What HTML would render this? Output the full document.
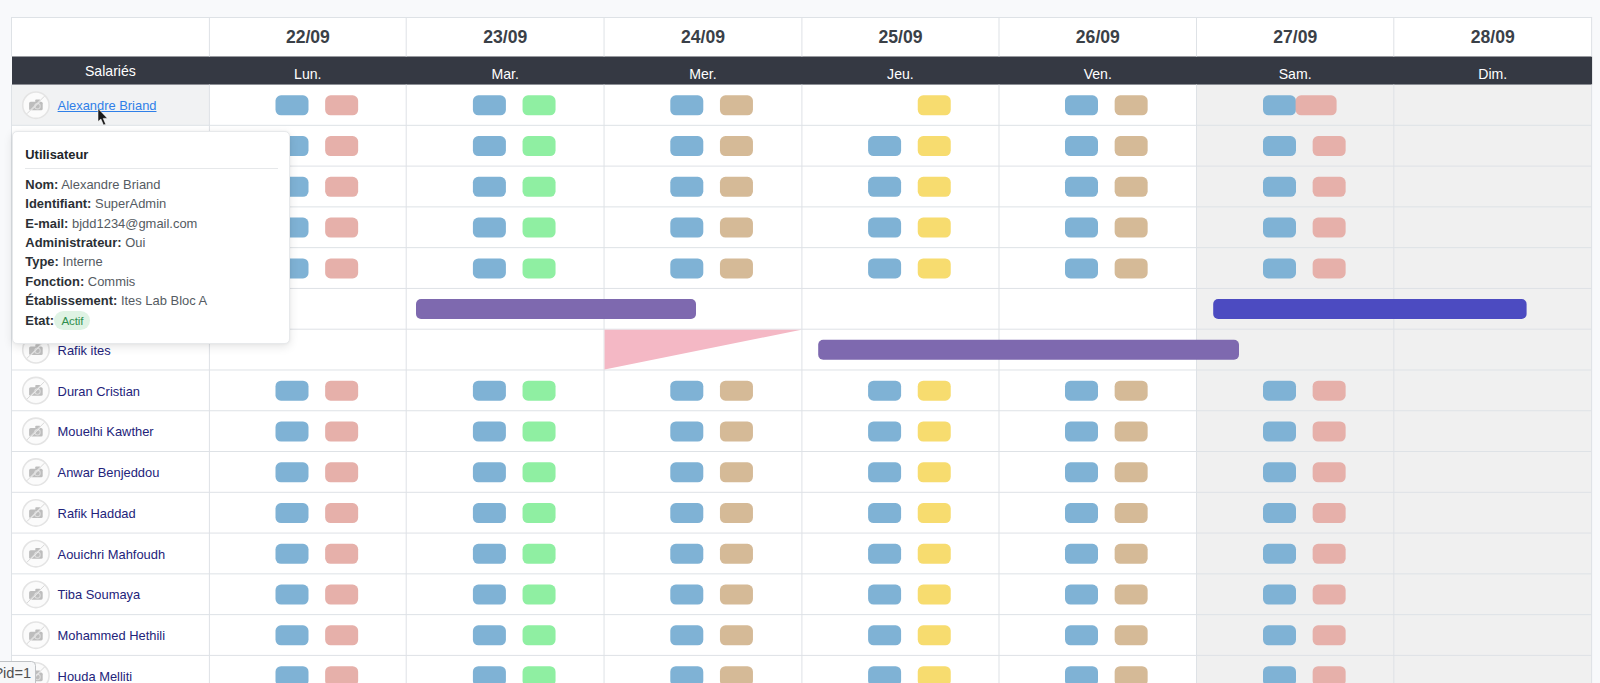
<!DOCTYPE html>
<html lang="fr"><head><meta charset="utf-8"><title>Planning</title>
<style>
html,body{margin:0;padding:0}
body{width:1600px;height:683px;overflow:hidden;background:#f8f9fb;position:relative;font-family:"Liberation Sans",sans-serif;}
#g{position:absolute;left:0;top:0}
.t{position:absolute;white-space:nowrap;line-height:1}
.date{font-weight:bold;font-size:17.6px;color:#3a4047;width:198px;text-align:center}
.day{font-size:14.1px;color:#fff;width:198px;text-align:center}
.nm{font-size:12.9px;color:#23237a;text-decoration:none}
.nm.hov{color:#2f7fe8;text-decoration:underline}
#pop{position:absolute;left:12px;top:131px;width:276px;height:211px;background:#fff;border:1px solid #e7e9eb;border-radius:5px;box-shadow:0 3px 10px rgba(0,0,0,.10),0 0 3px rgba(0,0,0,.05);box-sizing:content-box}
#pop h6{margin:0;position:absolute;left:12.3px;top:16.1px;font-size:12.9px;line-height:14px;color:#212529;font-weight:bold}
#pop hr{position:absolute;left:12.3px;right:11px;top:36px;margin:0;border:0;border-top:1px solid #e6e8ea}
#pop ul{list-style:none;margin:0;padding:0;position:absolute;left:12.3px;top:42.8px;font-size:12.95px;line-height:19.4px;color:#555b62}
#pop li{white-space:nowrap}
#pop b{color:#2b3035}
.badge{display:inline-block;background:#dff3e4;color:#2f8f4e;font-size:11.6px;line-height:19px;height:19px;padding:0 7.2px;border-radius:10px;vertical-align:middle;position:relative;top:-0.6px;margin-left:-3.4px;letter-spacing:-0.15px}
#status{position:absolute;left:-6px;top:660.9px;height:24px;width:41.8px;background:#f6f7f8;border:1px solid #bfc2c5;border-radius:0 4.5px 0 0;font-family:"Liberation Sans",sans-serif;font-size:14.6px;line-height:20px;color:#505050;white-space:nowrap;box-sizing:border-box;padding-left:0px;padding-top:1.4px}
</style></head><body>

<svg id="g" width="1600" height="683" viewBox="0 0 1600 683">
<rect x="11.5" y="17.5" width="1580.1" height="39" fill="#ffffff"/>
<rect x="11.5" y="84.55" width="1185" height="598.45" fill="#ffffff"/>
<rect x="1196" y="84.55" width="395.6" height="598.45" fill="#f0f0f0"/>
<rect x="11.5" y="84.55" width="197.9" height="40.77" fill="#f1f2f3"/>
<rect x="12" y="56.5" width="1580.1" height="28.05" fill="#353943"/>
<rect x="11" y="17" width="1581.1" height="1" fill="#dee2e6"/>
<rect x="11.5" y="124.82" width="1580.1" height="1" fill="#dee2e6"/>
<rect x="11.5" y="165.6" width="1580.1" height="1" fill="#dee2e6"/>
<rect x="11.5" y="206.38" width="1580.1" height="1" fill="#dee2e6"/>
<rect x="11.5" y="247.15" width="1580.1" height="1" fill="#dee2e6"/>
<rect x="11.5" y="287.93" width="1580.1" height="1" fill="#dee2e6"/>
<rect x="11.5" y="328.7" width="1580.1" height="1" fill="#dee2e6"/>
<rect x="11.5" y="369.48" width="1580.1" height="1" fill="#dee2e6"/>
<rect x="11.5" y="410.25" width="1580.1" height="1" fill="#dee2e6"/>
<rect x="11.5" y="451.02" width="1580.1" height="1" fill="#dee2e6"/>
<rect x="11.5" y="491.8" width="1580.1" height="1" fill="#dee2e6"/>
<rect x="11.5" y="532.57" width="1580.1" height="1" fill="#dee2e6"/>
<rect x="11.5" y="573.35" width="1580.1" height="1" fill="#dee2e6"/>
<rect x="11.5" y="614.12" width="1580.1" height="1" fill="#dee2e6"/>
<rect x="11.5" y="654.9" width="1580.1" height="1" fill="#dee2e6"/>
<rect x="11.5" y="695.67" width="1580.1" height="1" fill="#dee2e6"/>
<rect x="11" y="17.5" width="1" height="39" fill="#dee2e6"/>
<rect x="11" y="84.55" width="1" height="598.45" fill="#dee2e6"/>
<rect x="208.9" y="17.5" width="1" height="39" fill="#dee2e6"/>
<rect x="208.9" y="84.55" width="1" height="598.45" fill="#dee2e6"/>
<rect x="405.7" y="17.5" width="1" height="39" fill="#dee2e6"/>
<rect x="405.7" y="84.55" width="1" height="598.45" fill="#dee2e6"/>
<rect x="603.55" y="17.5" width="1" height="39" fill="#dee2e6"/>
<rect x="603.55" y="84.55" width="1" height="598.45" fill="#dee2e6"/>
<rect x="801.4" y="17.5" width="1" height="39" fill="#dee2e6"/>
<rect x="801.4" y="84.55" width="1" height="598.45" fill="#dee2e6"/>
<rect x="998.5" y="17.5" width="1" height="39" fill="#dee2e6"/>
<rect x="998.5" y="84.55" width="1" height="598.45" fill="#dee2e6"/>
<rect x="1196" y="17.5" width="1" height="39" fill="#dee2e6"/>
<rect x="1196" y="84.55" width="1" height="598.45" fill="#dee2e6"/>
<rect x="1393.3" y="17.5" width="1" height="39" fill="#dee2e6"/>
<rect x="1393.3" y="84.55" width="1" height="598.45" fill="#dee2e6"/>
<rect x="1591.1" y="17.5" width="1" height="39" fill="#dee2e6"/>
<rect x="1591.1" y="84.55" width="1" height="598.45" fill="#dee2e6"/>
<rect x="275.5" y="95.3" width="33" height="20" rx="5.5" fill="#7fb2d5"/>
<rect x="325.15" y="95.3" width="33" height="20" rx="5.5" fill="#e6b0aa"/>
<rect x="472.9" y="95.3" width="33" height="20" rx="5.5" fill="#7fb2d5"/>
<rect x="522.55" y="95.3" width="33" height="20" rx="5.5" fill="#8fefa2"/>
<rect x="670.3" y="95.3" width="33" height="20" rx="5.5" fill="#7fb2d5"/>
<rect x="719.95" y="95.3" width="33" height="20" rx="5.5" fill="#d5ba97"/>
<rect x="917.75" y="95.3" width="33" height="20" rx="5.5" fill="#f7dc6f"/>
<rect x="1065" y="95.3" width="33" height="20" rx="5.5" fill="#7fb2d5"/>
<rect x="1114.65" y="95.3" width="33" height="20" rx="5.5" fill="#d5ba97"/>
<rect x="1263" y="95.3" width="33" height="20" rx="5.5" fill="#7fb2d5"/>
<rect x="1295.6" y="95.3" width="41" height="20" rx="5.5" fill="#e6b0aa"/>
<rect x="275.5" y="136.07" width="33" height="20" rx="5.5" fill="#7fb2d5"/>
<rect x="325.15" y="136.07" width="33" height="20" rx="5.5" fill="#e6b0aa"/>
<rect x="472.9" y="136.07" width="33" height="20" rx="5.5" fill="#7fb2d5"/>
<rect x="522.55" y="136.07" width="33" height="20" rx="5.5" fill="#8fefa2"/>
<rect x="670.3" y="136.07" width="33" height="20" rx="5.5" fill="#7fb2d5"/>
<rect x="719.95" y="136.07" width="33" height="20" rx="5.5" fill="#d5ba97"/>
<rect x="868.1" y="136.07" width="33" height="20" rx="5.5" fill="#7fb2d5"/>
<rect x="917.75" y="136.07" width="33" height="20" rx="5.5" fill="#f7dc6f"/>
<rect x="1065" y="136.07" width="33" height="20" rx="5.5" fill="#7fb2d5"/>
<rect x="1114.65" y="136.07" width="33" height="20" rx="5.5" fill="#d5ba97"/>
<rect x="1263" y="136.07" width="33" height="20" rx="5.5" fill="#7fb2d5"/>
<rect x="1312.65" y="136.07" width="33" height="20" rx="5.5" fill="#e6b0aa"/>
<rect x="275.5" y="176.85" width="33" height="20" rx="5.5" fill="#7fb2d5"/>
<rect x="325.15" y="176.85" width="33" height="20" rx="5.5" fill="#e6b0aa"/>
<rect x="472.9" y="176.85" width="33" height="20" rx="5.5" fill="#7fb2d5"/>
<rect x="522.55" y="176.85" width="33" height="20" rx="5.5" fill="#8fefa2"/>
<rect x="670.3" y="176.85" width="33" height="20" rx="5.5" fill="#7fb2d5"/>
<rect x="719.95" y="176.85" width="33" height="20" rx="5.5" fill="#d5ba97"/>
<rect x="868.1" y="176.85" width="33" height="20" rx="5.5" fill="#7fb2d5"/>
<rect x="917.75" y="176.85" width="33" height="20" rx="5.5" fill="#f7dc6f"/>
<rect x="1065" y="176.85" width="33" height="20" rx="5.5" fill="#7fb2d5"/>
<rect x="1114.65" y="176.85" width="33" height="20" rx="5.5" fill="#d5ba97"/>
<rect x="1263" y="176.85" width="33" height="20" rx="5.5" fill="#7fb2d5"/>
<rect x="1312.65" y="176.85" width="33" height="20" rx="5.5" fill="#e6b0aa"/>
<rect x="275.5" y="217.62" width="33" height="20" rx="5.5" fill="#7fb2d5"/>
<rect x="325.15" y="217.62" width="33" height="20" rx="5.5" fill="#e6b0aa"/>
<rect x="472.9" y="217.62" width="33" height="20" rx="5.5" fill="#7fb2d5"/>
<rect x="522.55" y="217.62" width="33" height="20" rx="5.5" fill="#8fefa2"/>
<rect x="670.3" y="217.62" width="33" height="20" rx="5.5" fill="#7fb2d5"/>
<rect x="719.95" y="217.62" width="33" height="20" rx="5.5" fill="#d5ba97"/>
<rect x="868.1" y="217.62" width="33" height="20" rx="5.5" fill="#7fb2d5"/>
<rect x="917.75" y="217.62" width="33" height="20" rx="5.5" fill="#f7dc6f"/>
<rect x="1065" y="217.62" width="33" height="20" rx="5.5" fill="#7fb2d5"/>
<rect x="1114.65" y="217.62" width="33" height="20" rx="5.5" fill="#d5ba97"/>
<rect x="1263" y="217.62" width="33" height="20" rx="5.5" fill="#7fb2d5"/>
<rect x="1312.65" y="217.62" width="33" height="20" rx="5.5" fill="#e6b0aa"/>
<rect x="275.5" y="258.4" width="33" height="20" rx="5.5" fill="#7fb2d5"/>
<rect x="325.15" y="258.4" width="33" height="20" rx="5.5" fill="#e6b0aa"/>
<rect x="472.9" y="258.4" width="33" height="20" rx="5.5" fill="#7fb2d5"/>
<rect x="522.55" y="258.4" width="33" height="20" rx="5.5" fill="#8fefa2"/>
<rect x="670.3" y="258.4" width="33" height="20" rx="5.5" fill="#7fb2d5"/>
<rect x="719.95" y="258.4" width="33" height="20" rx="5.5" fill="#d5ba97"/>
<rect x="868.1" y="258.4" width="33" height="20" rx="5.5" fill="#7fb2d5"/>
<rect x="917.75" y="258.4" width="33" height="20" rx="5.5" fill="#f7dc6f"/>
<rect x="1065" y="258.4" width="33" height="20" rx="5.5" fill="#7fb2d5"/>
<rect x="1114.65" y="258.4" width="33" height="20" rx="5.5" fill="#d5ba97"/>
<rect x="1263" y="258.4" width="33" height="20" rx="5.5" fill="#7fb2d5"/>
<rect x="1312.65" y="258.4" width="33" height="20" rx="5.5" fill="#e6b0aa"/>
<rect x="275.5" y="380.73" width="33" height="20" rx="5.5" fill="#7fb2d5"/>
<rect x="325.15" y="380.73" width="33" height="20" rx="5.5" fill="#e6b0aa"/>
<rect x="472.9" y="380.73" width="33" height="20" rx="5.5" fill="#7fb2d5"/>
<rect x="522.55" y="380.73" width="33" height="20" rx="5.5" fill="#8fefa2"/>
<rect x="670.3" y="380.73" width="33" height="20" rx="5.5" fill="#7fb2d5"/>
<rect x="719.95" y="380.73" width="33" height="20" rx="5.5" fill="#d5ba97"/>
<rect x="868.1" y="380.73" width="33" height="20" rx="5.5" fill="#7fb2d5"/>
<rect x="917.75" y="380.73" width="33" height="20" rx="5.5" fill="#f7dc6f"/>
<rect x="1065" y="380.73" width="33" height="20" rx="5.5" fill="#7fb2d5"/>
<rect x="1114.65" y="380.73" width="33" height="20" rx="5.5" fill="#d5ba97"/>
<rect x="1263" y="380.73" width="33" height="20" rx="5.5" fill="#7fb2d5"/>
<rect x="1312.65" y="380.73" width="33" height="20" rx="5.5" fill="#e6b0aa"/>
<rect x="275.5" y="421.5" width="33" height="20" rx="5.5" fill="#7fb2d5"/>
<rect x="325.15" y="421.5" width="33" height="20" rx="5.5" fill="#e6b0aa"/>
<rect x="472.9" y="421.5" width="33" height="20" rx="5.5" fill="#7fb2d5"/>
<rect x="522.55" y="421.5" width="33" height="20" rx="5.5" fill="#8fefa2"/>
<rect x="670.3" y="421.5" width="33" height="20" rx="5.5" fill="#7fb2d5"/>
<rect x="719.95" y="421.5" width="33" height="20" rx="5.5" fill="#d5ba97"/>
<rect x="868.1" y="421.5" width="33" height="20" rx="5.5" fill="#7fb2d5"/>
<rect x="917.75" y="421.5" width="33" height="20" rx="5.5" fill="#f7dc6f"/>
<rect x="1065" y="421.5" width="33" height="20" rx="5.5" fill="#7fb2d5"/>
<rect x="1114.65" y="421.5" width="33" height="20" rx="5.5" fill="#d5ba97"/>
<rect x="1263" y="421.5" width="33" height="20" rx="5.5" fill="#7fb2d5"/>
<rect x="1312.65" y="421.5" width="33" height="20" rx="5.5" fill="#e6b0aa"/>
<rect x="275.5" y="462.27" width="33" height="20" rx="5.5" fill="#7fb2d5"/>
<rect x="325.15" y="462.27" width="33" height="20" rx="5.5" fill="#e6b0aa"/>
<rect x="472.9" y="462.27" width="33" height="20" rx="5.5" fill="#7fb2d5"/>
<rect x="522.55" y="462.27" width="33" height="20" rx="5.5" fill="#8fefa2"/>
<rect x="670.3" y="462.27" width="33" height="20" rx="5.5" fill="#7fb2d5"/>
<rect x="719.95" y="462.27" width="33" height="20" rx="5.5" fill="#d5ba97"/>
<rect x="868.1" y="462.27" width="33" height="20" rx="5.5" fill="#7fb2d5"/>
<rect x="917.75" y="462.27" width="33" height="20" rx="5.5" fill="#f7dc6f"/>
<rect x="1065" y="462.27" width="33" height="20" rx="5.5" fill="#7fb2d5"/>
<rect x="1114.65" y="462.27" width="33" height="20" rx="5.5" fill="#d5ba97"/>
<rect x="1263" y="462.27" width="33" height="20" rx="5.5" fill="#7fb2d5"/>
<rect x="1312.65" y="462.27" width="33" height="20" rx="5.5" fill="#e6b0aa"/>
<rect x="275.5" y="503.05" width="33" height="20" rx="5.5" fill="#7fb2d5"/>
<rect x="325.15" y="503.05" width="33" height="20" rx="5.5" fill="#e6b0aa"/>
<rect x="472.9" y="503.05" width="33" height="20" rx="5.5" fill="#7fb2d5"/>
<rect x="522.55" y="503.05" width="33" height="20" rx="5.5" fill="#8fefa2"/>
<rect x="670.3" y="503.05" width="33" height="20" rx="5.5" fill="#7fb2d5"/>
<rect x="719.95" y="503.05" width="33" height="20" rx="5.5" fill="#d5ba97"/>
<rect x="868.1" y="503.05" width="33" height="20" rx="5.5" fill="#7fb2d5"/>
<rect x="917.75" y="503.05" width="33" height="20" rx="5.5" fill="#f7dc6f"/>
<rect x="1065" y="503.05" width="33" height="20" rx="5.5" fill="#7fb2d5"/>
<rect x="1114.65" y="503.05" width="33" height="20" rx="5.5" fill="#d5ba97"/>
<rect x="1263" y="503.05" width="33" height="20" rx="5.5" fill="#7fb2d5"/>
<rect x="1312.65" y="503.05" width="33" height="20" rx="5.5" fill="#e6b0aa"/>
<rect x="275.5" y="543.82" width="33" height="20" rx="5.5" fill="#7fb2d5"/>
<rect x="325.15" y="543.82" width="33" height="20" rx="5.5" fill="#e6b0aa"/>
<rect x="472.9" y="543.82" width="33" height="20" rx="5.5" fill="#7fb2d5"/>
<rect x="522.55" y="543.82" width="33" height="20" rx="5.5" fill="#8fefa2"/>
<rect x="670.3" y="543.82" width="33" height="20" rx="5.5" fill="#7fb2d5"/>
<rect x="719.95" y="543.82" width="33" height="20" rx="5.5" fill="#d5ba97"/>
<rect x="868.1" y="543.82" width="33" height="20" rx="5.5" fill="#7fb2d5"/>
<rect x="917.75" y="543.82" width="33" height="20" rx="5.5" fill="#f7dc6f"/>
<rect x="1065" y="543.82" width="33" height="20" rx="5.5" fill="#7fb2d5"/>
<rect x="1114.65" y="543.82" width="33" height="20" rx="5.5" fill="#d5ba97"/>
<rect x="1263" y="543.82" width="33" height="20" rx="5.5" fill="#7fb2d5"/>
<rect x="1312.65" y="543.82" width="33" height="20" rx="5.5" fill="#e6b0aa"/>
<rect x="275.5" y="584.6" width="33" height="20" rx="5.5" fill="#7fb2d5"/>
<rect x="325.15" y="584.6" width="33" height="20" rx="5.5" fill="#e6b0aa"/>
<rect x="472.9" y="584.6" width="33" height="20" rx="5.5" fill="#7fb2d5"/>
<rect x="522.55" y="584.6" width="33" height="20" rx="5.5" fill="#8fefa2"/>
<rect x="670.3" y="584.6" width="33" height="20" rx="5.5" fill="#7fb2d5"/>
<rect x="719.95" y="584.6" width="33" height="20" rx="5.5" fill="#d5ba97"/>
<rect x="868.1" y="584.6" width="33" height="20" rx="5.5" fill="#7fb2d5"/>
<rect x="917.75" y="584.6" width="33" height="20" rx="5.5" fill="#f7dc6f"/>
<rect x="1065" y="584.6" width="33" height="20" rx="5.5" fill="#7fb2d5"/>
<rect x="1114.65" y="584.6" width="33" height="20" rx="5.5" fill="#d5ba97"/>
<rect x="1263" y="584.6" width="33" height="20" rx="5.5" fill="#7fb2d5"/>
<rect x="1312.65" y="584.6" width="33" height="20" rx="5.5" fill="#e6b0aa"/>
<rect x="275.5" y="625.37" width="33" height="20" rx="5.5" fill="#7fb2d5"/>
<rect x="325.15" y="625.37" width="33" height="20" rx="5.5" fill="#e6b0aa"/>
<rect x="472.9" y="625.37" width="33" height="20" rx="5.5" fill="#7fb2d5"/>
<rect x="522.55" y="625.37" width="33" height="20" rx="5.5" fill="#8fefa2"/>
<rect x="670.3" y="625.37" width="33" height="20" rx="5.5" fill="#7fb2d5"/>
<rect x="719.95" y="625.37" width="33" height="20" rx="5.5" fill="#d5ba97"/>
<rect x="868.1" y="625.37" width="33" height="20" rx="5.5" fill="#7fb2d5"/>
<rect x="917.75" y="625.37" width="33" height="20" rx="5.5" fill="#f7dc6f"/>
<rect x="1065" y="625.37" width="33" height="20" rx="5.5" fill="#7fb2d5"/>
<rect x="1114.65" y="625.37" width="33" height="20" rx="5.5" fill="#d5ba97"/>
<rect x="1263" y="625.37" width="33" height="20" rx="5.5" fill="#7fb2d5"/>
<rect x="1312.65" y="625.37" width="33" height="20" rx="5.5" fill="#e6b0aa"/>
<rect x="275.5" y="666.15" width="33" height="20" rx="5.5" fill="#7fb2d5"/>
<rect x="325.15" y="666.15" width="33" height="20" rx="5.5" fill="#e6b0aa"/>
<rect x="472.9" y="666.15" width="33" height="20" rx="5.5" fill="#7fb2d5"/>
<rect x="522.55" y="666.15" width="33" height="20" rx="5.5" fill="#8fefa2"/>
<rect x="670.3" y="666.15" width="33" height="20" rx="5.5" fill="#7fb2d5"/>
<rect x="719.95" y="666.15" width="33" height="20" rx="5.5" fill="#d5ba97"/>
<rect x="868.1" y="666.15" width="33" height="20" rx="5.5" fill="#7fb2d5"/>
<rect x="917.75" y="666.15" width="33" height="20" rx="5.5" fill="#f7dc6f"/>
<rect x="1065" y="666.15" width="33" height="20" rx="5.5" fill="#7fb2d5"/>
<rect x="1114.65" y="666.15" width="33" height="20" rx="5.5" fill="#d5ba97"/>
<rect x="1263" y="666.15" width="33" height="20" rx="5.5" fill="#7fb2d5"/>
<rect x="1312.65" y="666.15" width="33" height="20" rx="5.5" fill="#e6b0aa"/>
<rect x="416" y="299.03" width="280" height="20" rx="5" fill="#7e69af"/>
<rect x="1213.2" y="299.03" width="313.4" height="20" rx="5" fill="#4c4bc1"/>
<rect x="818.2" y="339.8" width="420.8" height="20" rx="5" fill="#7e69af"/>
<polygon points="604.55,329.7 801.4,329.7 604.55,369.48" fill="#f4b8c5"/>
<g transform="translate(35.9,105.15)">
<circle r="13.2" fill="#fbfbfb" stroke="#e4e4e4" stroke-width="1.6"/>
<rect x="-6.8" y="-3.4" width="13.6" height="8.6" rx="1.6" fill="#bdbdbd"/>
<rect x="-0.6" y="-5.6" width="5" height="3" rx="0.8" fill="#bdbdbd"/>
<circle cx="1.6" cy="1" r="2.7" fill="#bdbdbd" stroke="#dcdcdc" stroke-width="1.1"/>
<path d="M-8.6 8.6 L8.6 -8.6" stroke="#fbfbfb" stroke-width="1.3" opacity=".8"/>
<path d="M-9 8.6 L8.6 -9" stroke="#d4d4d4" stroke-width="0.9"/>
</g>
<g transform="translate(35.9,145.92)">
<circle r="13.2" fill="#fbfbfb" stroke="#e4e4e4" stroke-width="1.6"/>
<rect x="-6.8" y="-3.4" width="13.6" height="8.6" rx="1.6" fill="#bdbdbd"/>
<rect x="-0.6" y="-5.6" width="5" height="3" rx="0.8" fill="#bdbdbd"/>
<circle cx="1.6" cy="1" r="2.7" fill="#bdbdbd" stroke="#dcdcdc" stroke-width="1.1"/>
<path d="M-8.6 8.6 L8.6 -8.6" stroke="#fbfbfb" stroke-width="1.3" opacity=".8"/>
<path d="M-9 8.6 L8.6 -9" stroke="#d4d4d4" stroke-width="0.9"/>
</g>
<g transform="translate(35.9,186.7)">
<circle r="13.2" fill="#fbfbfb" stroke="#e4e4e4" stroke-width="1.6"/>
<rect x="-6.8" y="-3.4" width="13.6" height="8.6" rx="1.6" fill="#bdbdbd"/>
<rect x="-0.6" y="-5.6" width="5" height="3" rx="0.8" fill="#bdbdbd"/>
<circle cx="1.6" cy="1" r="2.7" fill="#bdbdbd" stroke="#dcdcdc" stroke-width="1.1"/>
<path d="M-8.6 8.6 L8.6 -8.6" stroke="#fbfbfb" stroke-width="1.3" opacity=".8"/>
<path d="M-9 8.6 L8.6 -9" stroke="#d4d4d4" stroke-width="0.9"/>
</g>
<g transform="translate(35.9,227.47)">
<circle r="13.2" fill="#fbfbfb" stroke="#e4e4e4" stroke-width="1.6"/>
<rect x="-6.8" y="-3.4" width="13.6" height="8.6" rx="1.6" fill="#bdbdbd"/>
<rect x="-0.6" y="-5.6" width="5" height="3" rx="0.8" fill="#bdbdbd"/>
<circle cx="1.6" cy="1" r="2.7" fill="#bdbdbd" stroke="#dcdcdc" stroke-width="1.1"/>
<path d="M-8.6 8.6 L8.6 -8.6" stroke="#fbfbfb" stroke-width="1.3" opacity=".8"/>
<path d="M-9 8.6 L8.6 -9" stroke="#d4d4d4" stroke-width="0.9"/>
</g>
<g transform="translate(35.9,268.25)">
<circle r="13.2" fill="#fbfbfb" stroke="#e4e4e4" stroke-width="1.6"/>
<rect x="-6.8" y="-3.4" width="13.6" height="8.6" rx="1.6" fill="#bdbdbd"/>
<rect x="-0.6" y="-5.6" width="5" height="3" rx="0.8" fill="#bdbdbd"/>
<circle cx="1.6" cy="1" r="2.7" fill="#bdbdbd" stroke="#dcdcdc" stroke-width="1.1"/>
<path d="M-8.6 8.6 L8.6 -8.6" stroke="#fbfbfb" stroke-width="1.3" opacity=".8"/>
<path d="M-9 8.6 L8.6 -9" stroke="#d4d4d4" stroke-width="0.9"/>
</g>
<g transform="translate(35.9,309.03)">
<circle r="13.2" fill="#fbfbfb" stroke="#e4e4e4" stroke-width="1.6"/>
<rect x="-6.8" y="-3.4" width="13.6" height="8.6" rx="1.6" fill="#bdbdbd"/>
<rect x="-0.6" y="-5.6" width="5" height="3" rx="0.8" fill="#bdbdbd"/>
<circle cx="1.6" cy="1" r="2.7" fill="#bdbdbd" stroke="#dcdcdc" stroke-width="1.1"/>
<path d="M-8.6 8.6 L8.6 -8.6" stroke="#fbfbfb" stroke-width="1.3" opacity=".8"/>
<path d="M-9 8.6 L8.6 -9" stroke="#d4d4d4" stroke-width="0.9"/>
</g>
<g transform="translate(35.9,349.8)">
<circle r="13.2" fill="#fbfbfb" stroke="#e4e4e4" stroke-width="1.6"/>
<rect x="-6.8" y="-3.4" width="13.6" height="8.6" rx="1.6" fill="#bdbdbd"/>
<rect x="-0.6" y="-5.6" width="5" height="3" rx="0.8" fill="#bdbdbd"/>
<circle cx="1.6" cy="1" r="2.7" fill="#bdbdbd" stroke="#dcdcdc" stroke-width="1.1"/>
<path d="M-8.6 8.6 L8.6 -8.6" stroke="#fbfbfb" stroke-width="1.3" opacity=".8"/>
<path d="M-9 8.6 L8.6 -9" stroke="#d4d4d4" stroke-width="0.9"/>
</g>
<g transform="translate(35.9,390.58)">
<circle r="13.2" fill="#fbfbfb" stroke="#e4e4e4" stroke-width="1.6"/>
<rect x="-6.8" y="-3.4" width="13.6" height="8.6" rx="1.6" fill="#bdbdbd"/>
<rect x="-0.6" y="-5.6" width="5" height="3" rx="0.8" fill="#bdbdbd"/>
<circle cx="1.6" cy="1" r="2.7" fill="#bdbdbd" stroke="#dcdcdc" stroke-width="1.1"/>
<path d="M-8.6 8.6 L8.6 -8.6" stroke="#fbfbfb" stroke-width="1.3" opacity=".8"/>
<path d="M-9 8.6 L8.6 -9" stroke="#d4d4d4" stroke-width="0.9"/>
</g>
<g transform="translate(35.9,431.35)">
<circle r="13.2" fill="#fbfbfb" stroke="#e4e4e4" stroke-width="1.6"/>
<rect x="-6.8" y="-3.4" width="13.6" height="8.6" rx="1.6" fill="#bdbdbd"/>
<rect x="-0.6" y="-5.6" width="5" height="3" rx="0.8" fill="#bdbdbd"/>
<circle cx="1.6" cy="1" r="2.7" fill="#bdbdbd" stroke="#dcdcdc" stroke-width="1.1"/>
<path d="M-8.6 8.6 L8.6 -8.6" stroke="#fbfbfb" stroke-width="1.3" opacity=".8"/>
<path d="M-9 8.6 L8.6 -9" stroke="#d4d4d4" stroke-width="0.9"/>
</g>
<g transform="translate(35.9,472.12)">
<circle r="13.2" fill="#fbfbfb" stroke="#e4e4e4" stroke-width="1.6"/>
<rect x="-6.8" y="-3.4" width="13.6" height="8.6" rx="1.6" fill="#bdbdbd"/>
<rect x="-0.6" y="-5.6" width="5" height="3" rx="0.8" fill="#bdbdbd"/>
<circle cx="1.6" cy="1" r="2.7" fill="#bdbdbd" stroke="#dcdcdc" stroke-width="1.1"/>
<path d="M-8.6 8.6 L8.6 -8.6" stroke="#fbfbfb" stroke-width="1.3" opacity=".8"/>
<path d="M-9 8.6 L8.6 -9" stroke="#d4d4d4" stroke-width="0.9"/>
</g>
<g transform="translate(35.9,512.9)">
<circle r="13.2" fill="#fbfbfb" stroke="#e4e4e4" stroke-width="1.6"/>
<rect x="-6.8" y="-3.4" width="13.6" height="8.6" rx="1.6" fill="#bdbdbd"/>
<rect x="-0.6" y="-5.6" width="5" height="3" rx="0.8" fill="#bdbdbd"/>
<circle cx="1.6" cy="1" r="2.7" fill="#bdbdbd" stroke="#dcdcdc" stroke-width="1.1"/>
<path d="M-8.6 8.6 L8.6 -8.6" stroke="#fbfbfb" stroke-width="1.3" opacity=".8"/>
<path d="M-9 8.6 L8.6 -9" stroke="#d4d4d4" stroke-width="0.9"/>
</g>
<g transform="translate(35.9,553.67)">
<circle r="13.2" fill="#fbfbfb" stroke="#e4e4e4" stroke-width="1.6"/>
<rect x="-6.8" y="-3.4" width="13.6" height="8.6" rx="1.6" fill="#bdbdbd"/>
<rect x="-0.6" y="-5.6" width="5" height="3" rx="0.8" fill="#bdbdbd"/>
<circle cx="1.6" cy="1" r="2.7" fill="#bdbdbd" stroke="#dcdcdc" stroke-width="1.1"/>
<path d="M-8.6 8.6 L8.6 -8.6" stroke="#fbfbfb" stroke-width="1.3" opacity=".8"/>
<path d="M-9 8.6 L8.6 -9" stroke="#d4d4d4" stroke-width="0.9"/>
</g>
<g transform="translate(35.9,594.45)">
<circle r="13.2" fill="#fbfbfb" stroke="#e4e4e4" stroke-width="1.6"/>
<rect x="-6.8" y="-3.4" width="13.6" height="8.6" rx="1.6" fill="#bdbdbd"/>
<rect x="-0.6" y="-5.6" width="5" height="3" rx="0.8" fill="#bdbdbd"/>
<circle cx="1.6" cy="1" r="2.7" fill="#bdbdbd" stroke="#dcdcdc" stroke-width="1.1"/>
<path d="M-8.6 8.6 L8.6 -8.6" stroke="#fbfbfb" stroke-width="1.3" opacity=".8"/>
<path d="M-9 8.6 L8.6 -9" stroke="#d4d4d4" stroke-width="0.9"/>
</g>
<g transform="translate(35.9,635.22)">
<circle r="13.2" fill="#fbfbfb" stroke="#e4e4e4" stroke-width="1.6"/>
<rect x="-6.8" y="-3.4" width="13.6" height="8.6" rx="1.6" fill="#bdbdbd"/>
<rect x="-0.6" y="-5.6" width="5" height="3" rx="0.8" fill="#bdbdbd"/>
<circle cx="1.6" cy="1" r="2.7" fill="#bdbdbd" stroke="#dcdcdc" stroke-width="1.1"/>
<path d="M-8.6 8.6 L8.6 -8.6" stroke="#fbfbfb" stroke-width="1.3" opacity=".8"/>
<path d="M-9 8.6 L8.6 -9" stroke="#d4d4d4" stroke-width="0.9"/>
</g>
<g transform="translate(35.9,676)">
<circle r="13.2" fill="#fbfbfb" stroke="#e4e4e4" stroke-width="1.6"/>
<rect x="-6.8" y="-3.4" width="13.6" height="8.6" rx="1.6" fill="#bdbdbd"/>
<rect x="-0.6" y="-5.6" width="5" height="3" rx="0.8" fill="#bdbdbd"/>
<circle cx="1.6" cy="1" r="2.7" fill="#bdbdbd" stroke="#dcdcdc" stroke-width="1.1"/>
<path d="M-8.6 8.6 L8.6 -8.6" stroke="#fbfbfb" stroke-width="1.3" opacity=".8"/>
<path d="M-9 8.6 L8.6 -9" stroke="#d4d4d4" stroke-width="0.9"/>
</g>
</svg>
<div class="t date" style="left:208.9px;top:28.7px">22/09</div>
<div class="t day" style="left:208.8px;top:66.5px">Lun.</div>
<div class="t date" style="left:406.23px;top:28.7px">23/09</div>
<div class="t day" style="left:406.12px;top:66.5px">Mar.</div>
<div class="t date" style="left:604.07px;top:28.7px">24/09</div>
<div class="t day" style="left:603.97px;top:66.5px">Mer.</div>
<div class="t date" style="left:801.55px;top:28.7px">25/09</div>
<div class="t day" style="left:801.45px;top:66.5px">Jeu.</div>
<div class="t date" style="left:998.85px;top:28.7px">26/09</div>
<div class="t day" style="left:998.75px;top:66.5px">Ven.</div>
<div class="t date" style="left:1196.25px;top:28.7px">27/09</div>
<div class="t day" style="left:1196.15px;top:66.5px">Sam.</div>
<div class="t date" style="left:1393.8px;top:28.7px">28/09</div>
<div class="t day" style="left:1393.7px;top:66.5px">Dim.</div>
<div class="t day" style="left:11.45px;top:63.6px">Salari&eacute;s</div>
<a class="t nm hov" style="left:57.6px;top:100px">Alexandre Briand</a>
<a class="t nm" style="left:57.6px;top:345px">Rafik ites</a>
<a class="t nm" style="left:57.6px;top:386px">Duran Cristian</a>
<a class="t nm" style="left:57.6px;top:426px">Mouelhi Kawther</a>
<a class="t nm" style="left:57.6px;top:467px">Anwar Benjeddou</a>
<a class="t nm" style="left:57.6px;top:508px">Rafik Haddad</a>
<a class="t nm" style="left:57.6px;top:549px">Aouichri Mahfoudh</a>
<a class="t nm" style="left:57.6px;top:589px">Tiba Soumaya</a>
<a class="t nm" style="left:57.6px;top:630px">Mohammed Hethili</a>
<a class="t nm" style="left:57.6px;top:671px">Houda Melliti</a>
<div id="pop"><h6>Utilisateur</h6><hr><ul>
<li><b>Nom:</b> Alexandre Briand</li>
<li><b>Identifiant:</b> SuperAdmin</li>
<li><b>E-mail:</b> bjdd1234@gmail.com</li>
<li><b>Administrateur:</b> Oui</li>
<li><b>Type:</b> Interne</li>
<li><b>Fonction:</b> Commis</li>
<li><b>&Eacute;tablissement:</b> Ites Lab Bloc A</li>
<li><b>Etat:</b> <span class="badge">Actif</span></li>
</ul></div>
<svg style="position:absolute;left:94.4px;top:105.2px" width="18" height="24" viewBox="-4 -4 18 24"><path d="M0 -0.6 L0 12.6 L2.9 10 L5.5 16.1 L7.7 15.2 L5.2 9.4 L9.3 9.2 Z" fill="#1b1b1b" stroke="rgba(255,255,255,.75)" stroke-width="0.7" stroke-linejoin="round"/></svg>
<div id="status">?id=1</div>
</body></html>
